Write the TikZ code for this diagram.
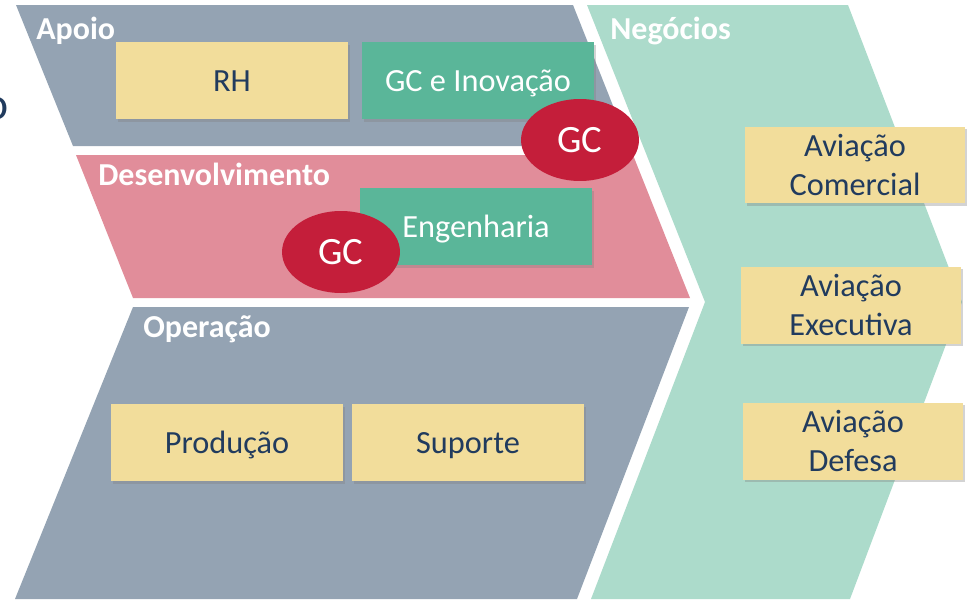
\documentclass[tikz,border=0pt]{standalone}
\usepackage{fontspec}
\setmainfont{Carlito}
\usetikzlibrary{shapes.geometric,shadows}

\definecolor{bandgray}{HTML}{94A3B3}
\definecolor{bandpink}{HTML}{E18D9A}
\definecolor{bandgreen}{HTML}{ACDBCB}
\definecolor{boxyellow}{HTML}{F2DD9B}
\definecolor{boxgreen}{HTML}{5AB699}
\definecolor{gcred}{HTML}{C41E3A}
\definecolor{textblue}{HTML}{213B5E}

\tikzset{
  caixa/.style={fill=boxyellow, text=textblue, minimum width=4.64cm, minimum height=1.54cm,
    inner sep=0pt, align=center, font=\fontsize{18.4}{22.2}\selectfont,
    text height=14.7pt, text depth=1.7pt,
    drop shadow={opacity=0.35, shadow xshift=1.2pt, shadow yshift=-1.6pt}},
  caixaverde/.style={caixa, fill=boxgreen, text=white},
  negocio/.style={caixa, minimum width=4.4cm, text height=, text depth=},
  gc/.style={ellipse, fill=gcred, text=white, minimum width=2.36cm, minimum height=1.64cm,
    inner sep=0pt, font=\fontsize{22}{26}\selectfont},
  rotulo/.style={anchor=base west, inner sep=0pt, text=white, font=\bfseries\fontsize{18.2}{22}\selectfont}
}

\begin{document}
\begin{tikzpicture}[x=0.02cm, y=-0.02cm]
\useasboundingbox (0,0) rectangle (969,599);

% faixas
\fill[bandgray] (16,5) -- (573,5) -- (629,146) -- (73,146) -- cycle;
\fill[bandpink] (76,155) -- (633,155) -- (690,298) -- (133,298) -- cycle;
\fill[bandgray] (133,307) -- (689,307) -- (577,599) -- (15,599) -- cycle;
\fill[bandgreen] (587,5) -- (848,5) -- (962,302) -- (850,599) -- (591,599) -- (705,302) -- cycle;

\path (36,39) node[rotulo] (apoio) {Apoio}
		(610,39) node[rotulo] (negocios) {Negócios}
		(98,185) node[rotulo] (desenv) {Desenvolvimento}
		(143,337) node[rotulo] (operacao) {Operação};

\path (232,80.5) node[caixa] (rh) {RH}
		(478,80.5) node[caixaverde] (gcinov) {GC e Inovação}
		(476,226.5) node[caixaverde] (eng) {Engenharia}
		(227,442.5) node[caixa] (prod) {Produção}
		(468,442.5) node[caixa] (sup) {Suporte}
		(855,165) node[negocio] (comercial) {Aviação\\Comercial}
		(851,305) node[negocio] (executiva) {Aviação\\Executiva}
		(853,441) node[negocio] (defesa) {Aviação\\Defesa};

\path (580,140) node[gc] (gc1) {GC}
		(341,252) node[gc] (gc2) {GC};

\node[anchor=east, inner sep=0pt, text=textblue, font=\fontsize{26}{30}\selectfont] (corte) at (9,109) {o};
\end{tikzpicture}
\end{document}
